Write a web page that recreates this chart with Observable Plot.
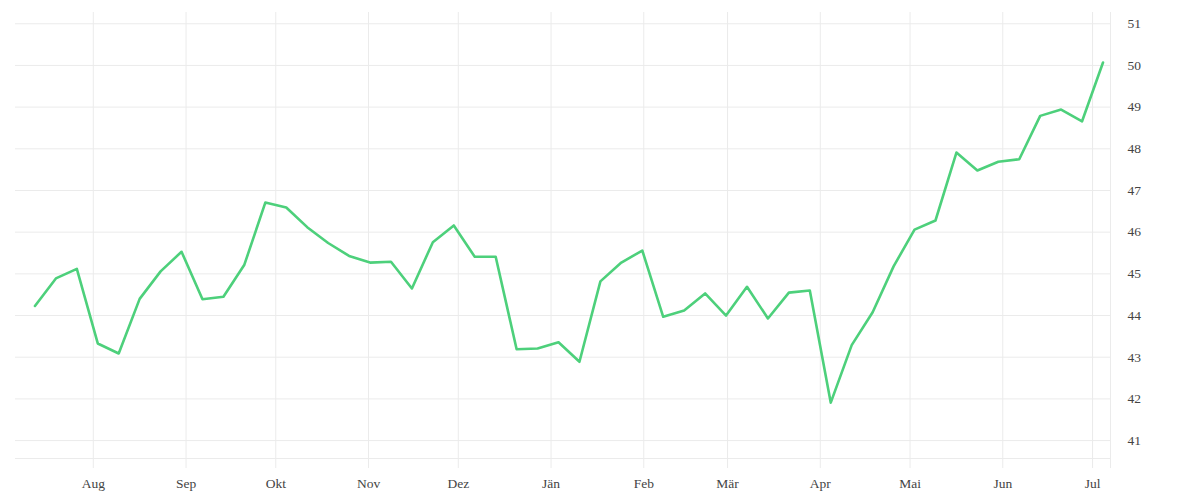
<!DOCTYPE html>
<html>
<head>
<meta charset="utf-8">
<script src="https://cdn.jsdelivr.net/npm/d3@7"></script>
<script src="https://cdn.jsdelivr.net/npm/@observablehq/plot@0.6"></script>
<style>
  html, body { margin: 0; padding: 0; background: #fff; }
</style>
</head>
<body>
<div id="chart"></div>
<script>
const dates = [
  "2018-07-12","2018-07-19","2018-07-26","2018-08-02","2018-08-09","2018-08-16","2018-08-23","2018-08-30",
  "2018-09-06","2018-09-13","2018-09-20","2018-09-27","2018-10-04","2018-10-11","2018-10-18","2018-10-25",
  "2018-11-01","2018-11-08","2018-11-15","2018-11-22","2018-11-29","2018-12-06","2018-12-13","2018-12-20",
  "2018-12-27","2019-01-03","2019-01-10","2019-01-17","2019-01-24","2019-01-31","2019-02-07","2019-02-14",
  "2019-02-21","2019-02-28","2019-03-07","2019-03-14","2019-03-21","2019-03-28","2019-04-04","2019-04-11",
  "2019-04-18","2019-04-25","2019-05-02","2019-05-09","2019-05-16","2019-05-23","2019-05-30","2019-06-06",
  "2019-06-13","2019-06-20","2019-06-27","2019-07-04"
];
const values = [
  44.23, 44.89, 45.12, 43.33, 43.09, 44.40, 45.06, 45.53,
  44.39, 44.45, 45.22, 46.71, 46.59, 46.12, 45.74, 45.43,
  45.27, 45.29, 44.65, 45.76, 46.16, 45.41, 45.41, 43.19,
  43.21, 43.36, 42.89, 44.82, 45.27, 45.56, 43.97, 44.12,
  44.53, 44.00, 44.69, 43.93, 44.55, 44.60, 41.91, 43.29,
  44.08, 45.18, 46.06, 46.28, 47.91, 47.48, 47.69, 47.75,
  48.79, 48.94, 48.66, 50.07
];
const monthTicks = ["2018-08-01","2018-09-01","2018-10-01","2018-11-01","2018-12-01","2019-01-01",
  "2019-02-01","2019-03-01","2019-04-01","2019-05-01","2019-06-01","2019-07-01"];
const monthLabels = ["Aug","Sep","Okt","Nov","Dez","Jän","Feb","Mär","Apr","Mai","Jun","Jul"];
const yTicks = [41, 42, 43, 44, 45, 46, 47, 48, 49, 50, 51];
const xDomain = ["2018-07-06", "2019-07-07"];
const yDomain = [40.57, 51.27];

const data = dates.map((d, i) => ({date: new Date(d + "T12:00:00Z"), value: values[i]}));
const tickDates = monthTicks.map(d => new Date(d + "T00:00:00Z"));
const labelOf = new Map(tickDates.map((d, i) => [+d, monthLabels[i]]));
const xEnd = new Date(xDomain[1] + "T00:00:00Z");
const gridDates = [...tickDates, xEnd];
const grid = "#ebebeb";

const chart = Plot.plot({
  width: 1200,
  height: 500,
  marginTop: 12,
  marginBottom: 42,
  marginLeft: 15,
  marginRight: 90,
  style: {fontFamily: "'Liberation Serif', serif", fontSize: "13.5px", color: "#444", background: "#fff"},
  x: {type: "utc", domain: xDomain.map(d => new Date(d + "T00:00:00Z"))},
  y: {domain: yDomain},
  marks: [
    Plot.gridY(yTicks, {stroke: grid, strokeOpacity: 1}),
    Plot.ruleY([yDomain[0]], {stroke: grid, strokeOpacity: 1}),
    Plot.gridX(gridDates, {stroke: grid, strokeOpacity: 1}),
    Plot.axisX(gridDates, {tickSize: 10, stroke: grid, strokeOpacity: 1, tickFormat: () => "", label: null}),
    Plot.axisX(tickDates, {tickSize: 0, tickPadding: 20, tickFormat: d => labelOf.get(+d), fill: "#444", label: null}),
    Plot.axisY(yTicks, {anchor: "right", tickSize: 0, tickPadding: 17, fill: "#444", label: null}),
    Plot.line(data, {x: "date", y: "value", stroke: "#4dd07b", strokeWidth: 2.6})
  ]
});
document.getElementById("chart").appendChild(chart);
</script>
</body>
</html>
